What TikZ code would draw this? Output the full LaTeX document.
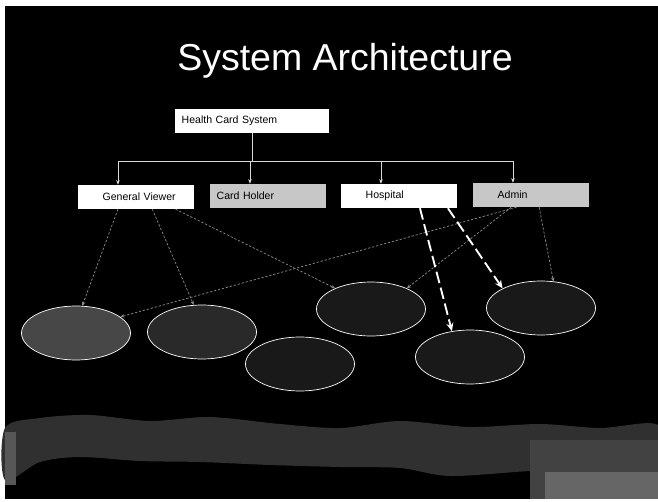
\documentclass[tikz,border=0pt]{standalone}
\usepackage{fontspec}
\setmainfont{Liberation Sans}
\usetikzlibrary{calc, shapes.geometric, arrows.meta}

\begin{document}
\begin{tikzpicture}[
x=0.03cm, y=-0.03cm,
box/.style = {% role boxes
    fill=white, inner xsep=0.2cm, inner ysep=0pt, text width=3.08cm,
    minimum height=0.72cm, align=left, font=\fontsize{9}{10}\selectfont,
            },
shaded/.style = {fill=black!22},
usecase/.style = {% ellipses
    ellipse, draw=white, line width=0.6pt, fill=black!90,
    minimum width=3.27cm, minimum height=1.62cm, inner sep=0pt,
            },
tree/.style = {white!85!black, line width=0.5pt, -{Stealth[length=4pt,width=3pt]}},
link/.style = {white!55!black, line width=0.6pt, dash pattern=on 2pt off 1.5pt,
    -{Stealth[length=3.5pt,width=3pt]}},
bigarrow/.style = {white, line width=1.6pt, dash pattern=on 10pt off 4pt,
    -{Stealth[length=7pt,width=6pt]}},
                        ]
% slide
\fill[white] (0,0) rectangle (658,502);
\fill[black] (5,6) rectangle (658,499);
\useasboundingbox (0,0) rectangle (658,502);
% bottom band
\fill[black!81] plot[smooth cycle] coordinates {(5,428) (40,418) (90,415) (150,421)
    (210,417) (280,424) (340,428) (400,421) (470,427) (540,424) (600,428) (658,425)
    (658,468) (600,468) (530,471) (450,476) (400,468) (340,467) (270,465) (200,462)
    (140,461) (80,457) (40,462) (5,480)};
\fill[black!74] (530,440) rectangle (658,499);
\fill[black!60] (545,472) rectangle (658,499);
\fill[black!66] (5,432) rectangle (16,485);
% title
\node[white, font=\fontsize{32}{36}\selectfont] (title) at (345,61)
    {System Architecture};
% boxes
\node[box, text width=4.22cm] (hcs) at (252,121) {Health Card System};
\node[box] (gv) at (136,197) {\hspace*{0.54cm}General Viewer};
\node[box, shaded] (ch) at (268,196) {Card Holder};
\node[box] (hosp) at (399,196) {\hspace*{0.54cm}Hospital};
\node[box, shaded] (adm) at (531,195) {\hspace*{0.54cm}Admin};
% ellipses
\node[usecase, fill=black!72] (e1) at (76,333) {};
\node[usecase, fill=black!84] (e2) at (202,332) {};
\node[usecase] (e3) at (300,364) {};
\node[usecase] (e4) at (371,309) {};
\node[usecase] (e5) at (470,357) {};
\node[usecase] (e6) at (541,308) {};
% tree
\coordinate (bus) at (252,161);
\draw[white!85!black, line width=0.5pt] (hcs.south) -- (bus);
\foreach \b in {gv, ch, hosp, adm}
    {\draw[tree] (bus) -| ($(\b.north west)!.345!(\b.north east)$);}
% links
\draw[link] ($(gv.south west)!.345!(gv.south east)$) -- (e1.77);
\draw[link] ($(gv.south west)!.64!(gv.south east)$) -- (e2.107);
\draw[link] ($(gv.south west)!.84!(gv.south east)$) -- (e4.150);
\draw[link] ($(adm.south west)!.376!(adm.south east)$) -- (e1.20);
\draw[link] ($(adm.south west)!.33!(adm.south east)$) -- (e4.30);
\draw[link] ($(adm.south west)!.57!(adm.south east)$) -- (e6.65);
\draw[bigarrow] ($(hosp.south west)!.68!(hosp.south east)$) -- (e5.125);
\draw[bigarrow] ($(hosp.south west)!.92!(hosp.south east)$) -- (e6.153);
\end{tikzpicture}
\end{document}
